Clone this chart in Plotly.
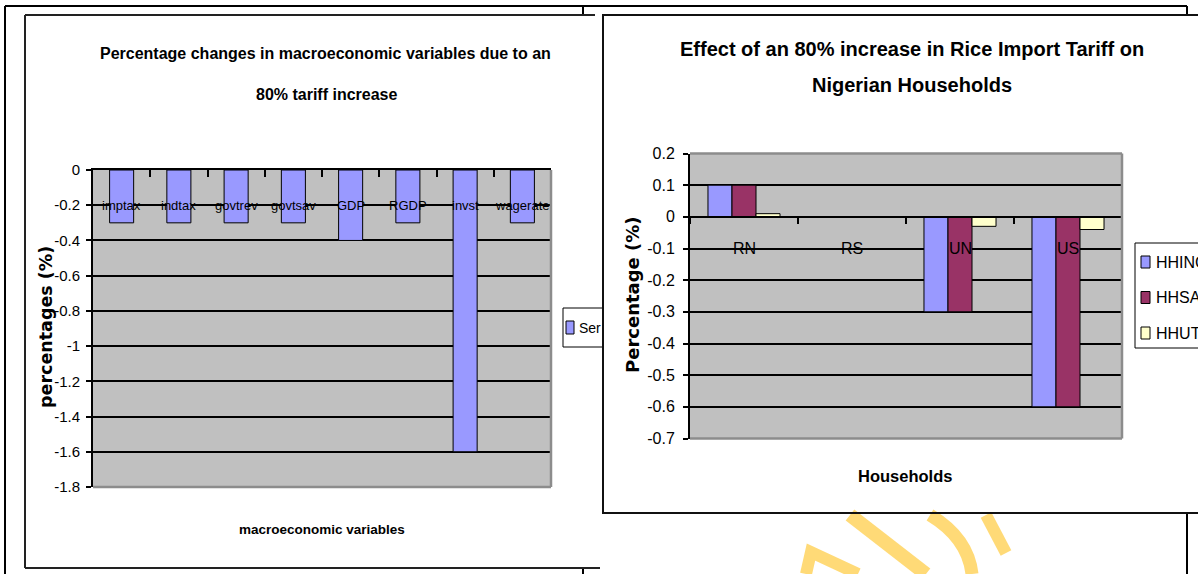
import plotly.graph_objects as go

W, H = 1198, 574

# ---------------- data: left chart ----------------
macro_vars = ["imptax", "indtax", "govtrev", "govtsav", "GDP", "RGDP", "invst", "wagerate"]
macro_changes = [-0.3, -0.3, -0.3, -0.3, -0.4, -0.3, -1.6, -0.3]
macro_series_name = "Series1"
left_title = ["Percentage changes in macroeconomic variables due to an", "80% tariff increase"]
left_xtitle = "macroeconomic variables"
left_ytitle = "percentages (%)"
left_yticks = [0, -0.2, -0.4, -0.6, -0.8, -1, -1.2, -1.4, -1.6, -1.8]
left_yticklabels = ["0", "-0.2", "-0.4", "-0.6", "-0.8", "-1", "-1.2", "-1.4", "-1.6", "-1.8"]

# ---------------- data: right chart ----------------
households = ["RN", "RS", "UN", "US"]
hh_income = [0.1, 0, -0.3, -0.6]
hh_saving = [0.1, 0, -0.3, -0.6]
hh_utility = [0.01, 0, -0.03, -0.04]
hh_series = ["HHINC", "HHSAV", "HHUT"]
right_title = ["Effect of an 80% increase in Rice Import Tariff on", "Nigerian Households"]
right_xtitle = "Households"
right_ytitle = "Percentage (%)"
right_yticks = [0.2, 0.1, 0, -0.1, -0.2, -0.3, -0.4, -0.5, -0.6, -0.7]
right_yticklabels = ["0.2", "0.1", "0", "-0.1", "-0.2", "-0.3", "-0.4", "-0.5", "-0.6", "-0.7"]

# ---------------- styles ----------------
FONT = "Liberation Sans, Arial, sans-serif"
WIDE_BOLD = "DejaVu Sans, Verdana, sans-serif"
LEFT_COLOR = "#9999FF"
HH_COLORS = ["#9999FF", "#993366", "#FFFFCC"]
PLOT_BG = "#C0C0C0"


def fx(px):
    return px / W


def fy(py):
    return 1 - py / H


L_XD = [fx(93), fx(551)]
L_YD = [fy(487), fy(170)]
R_XD = [fx(690), fx(1122)]
R_YD = [fy(438.5), fy(153.5)]
L_RANGE = [-1.8, 0]
R_RANGE = [-0.7, 0.2]
# x axis of the right chart crosses at value 0
r_axis_pos = R_YD[0] + (0 - R_RANGE[0]) / (R_RANGE[1] - R_RANGE[0]) * (R_YD[1] - R_YD[0])

fig = go.Figure()

fig.add_trace(go.Bar(
    x=macro_vars, y=macro_changes, name=macro_series_name,
    marker=dict(color=LEFT_COLOR, line=dict(color="black", width=1)),
    width=0.42, xaxis="x", yaxis="y", showlegend=False,
))
for name, vals, col in zip(hh_series, [hh_income, hh_saving, hh_utility], HH_COLORS):
    fig.add_trace(go.Bar(
        x=households, y=vals, name=name,
        marker=dict(color=col, line=dict(color="black", width=1)),
        xaxis="x2", yaxis="y2", showlegend=False,
    ))

axis_common = dict(showline=True, linecolor="black", linewidth=2, tickcolor="black",
                   fixedrange=True)

fig.update_layout(
    width=W, height=H,
    margin=dict(l=0, r=0, t=0, b=0, autoexpand=False),
    paper_bgcolor="white", plot_bgcolor=PLOT_BG,
    barmode="group", bargap=0.333, bargroupgap=0,
    showlegend=False,
    xaxis=dict(domain=L_XD, anchor="y", side="top", type="category", range=[-0.5, 7.5],
               ticks="inside", tickson="boundaries", ticklen=7, tickwidth=1.5,
               showticklabels=False, showgrid=False, zeroline=False, **axis_common),
    yaxis=dict(domain=L_YD, anchor="x", range=L_RANGE, tickvals=left_yticks,
               ticktext=left_yticklabels, ticks="outside", ticklen=5, tickwidth=1.5,
               ticklabelstandoff=3,
               showgrid=True, gridcolor="black", gridwidth=1.5, zeroline=False,
               tickfont=dict(family=FONT, size=15, color="black"), **axis_common),
    xaxis2=dict(domain=R_XD, anchor="free", position=r_axis_pos, type="category",
                range=[-0.5, 3.5], ticks="outside", tickson="boundaries", ticklen=6,
                tickwidth=1.5, showticklabels=False, showgrid=False, zeroline=False,
                **axis_common),
    yaxis2=dict(domain=R_YD, anchor="x2", range=R_RANGE, tickvals=right_yticks,
                ticktext=right_yticklabels, ticks="outside", ticklen=5, tickwidth=1.5,
                ticklabelstandoff=5,
                showgrid=True, gridcolor="black", gridwidth=1.5, zeroline=False,
                tickfont=dict(family=FONT, size=16, color="black"), **axis_common),
)

shapes = []


def seg(x0, y0, x1, y1, color="black", width=2):
    shapes.append(dict(type="line", xref="paper", yref="paper",
                       x0=fx(x0), y0=fy(y0), x1=fx(x1), y1=fy(y1),
                       line=dict(color=color, width=width)))


def rect(x0, y0, x1, y1, line_color="black", fill="rgba(0,0,0,0)", width=1):
    shapes.append(dict(type="rect", xref="paper", yref="paper",
                       x0=fx(x0), y0=fy(y0), x1=fx(x1), y1=fy(y1),
                       line=dict(color=line_color, width=width), fillcolor=fill))


# watermark strokes (beneath the right chart)
WM = "rgba(255,212,95,0.85)"
shapes.append(dict(type="path", xref="paper", yref="paper",
                   path=f"M {fx(850)},{fy(515)} L {fx(926)},{fy(574)}",
                   line=dict(color=WM, width=14)))
shapes.append(dict(type="path", xref="paper", yref="paper",
                   path=f"M {fx(930)},{fy(515)} Q {fx(968)},{fy(538)} {fx(972)},{fy(574)}",
                   line=dict(color=WM, width=13)))
shapes.append(dict(type="path", xref="paper", yref="paper",
                   path=f"M {fx(986)},{fy(515)} L {fx(1006)},{fy(553)}",
                   line=dict(color=WM, width=12)))
shapes.append(dict(type="path", xref="paper", yref="paper",
                   path=f"M {fx(806)},{fy(574)} L {fx(811)},{fy(552)} L {fx(858)},{fy(574)}",
                   line=dict(color=WM, width=12)))

# outer table frame (visible segments)
seg(5, 6, 1187, 6)
seg(5, 6, 5, 574)
seg(583, 6, 583, 15)
seg(583, 568, 583, 574)
seg(1187, 6, 1187, 15)
seg(1187, 513, 1187, 574)

# left chart frame (right side hidden under right chart)
seg(25, 15, 595, 15, "#222", 2)
seg(25, 15, 25, 568, "#222", 2)
seg(25, 568, 600, 568, "#222", 2)

# left chart legend (partly hidden by right chart)
seg(563, 308, 603, 308, "black", 1)
seg(563, 347, 603, 347, "black", 1)
seg(563, 308, 563, 347, "black", 1)
rect(566, 321, 574, 334, "black", LEFT_COLOR, 1)

# right chart frame
rect(603, 15, 1215, 513, "#111", "rgba(0,0,0,0)", 2)

# right chart legend
rect(1135, 243, 1215, 348, "black", "white", 1)
for i, col in enumerate(HH_COLORS):
    yc = 262 + i * 35.5
    rect(1141, yc - 6, 1150, yc + 6, "black", col, 1)

# gray plot-area borders
for xr, yr, sides in [("x domain", "y domain", ["right", "bottom"]),
                      ("x2 domain", "y2 domain", ["top", "right", "bottom"])]:
    for s in sides:
        if s == "right":
            c = dict(x0=1, x1=1, y0=0, y1=1)
        elif s == "bottom":
            c = dict(x0=0, x1=1, y0=0, y1=0)
        else:
            c = dict(x0=0, x1=1, y0=1, y1=1)
        shapes.append(dict(type="line", xref=xr, yref=yr, layer="above",
                           line=dict(color="#8C8C8C", width=2.5), **c))

fig.update_layout(shapes=shapes)

ann = []


def text_px(t, x, y, size, family=FONT, bold=False, angle=0, xanchor="center"):
    ann.append(dict(text=f"<b>{t}</b>" if bold else t, xref="paper", yref="paper",
                    x=fx(x), y=fy(y), xanchor=xanchor, yanchor="middle",
                    showarrow=False, textangle=angle,
                    font=dict(family=family, size=size, color="black")))


# titles
text_px(left_title[0], 325, 53, 16, bold=True)
text_px(left_title[1], 327, 95, 16, bold=True)
text_px(right_title[0], 912, 49, 20, bold=True)
text_px(right_title[1], 912, 85, 20, bold=True)
# axis titles
text_px(left_xtitle, 322, 529, 13.5, bold=True)
text_px(right_xtitle, 905, 476, 16.5, bold=True)
text_px(left_ytitle, 46, 327, 17.5, family=WIDE_BOLD, bold=True, angle=-90)
text_px(right_ytitle, 632, 295, 18, family=WIDE_BOLD, bold=True, angle=-90)

# category labels drawn at the axis' label band
for c in macro_vars:
    ann.append(dict(text=c, xref="x", yref="y", x=c, y=-0.2, showarrow=False,
                    yanchor="middle", font=dict(family=FONT, size=13, color="black")))
for c in households:
    ann.append(dict(text=c, xref="x2", yref="y2", x=c, y=-0.1, showarrow=False,
                    yanchor="middle", font=dict(family=FONT, size=16, color="black")))

# legends text (left legend is clipped by the right chart, only "Ser" visible)
text_px(macro_series_name[:3], 577, 328, 14, xanchor="left")
for i, name in enumerate(hh_series):
    text_px(name, 1154, 262 + i * 35.5, 16, xanchor="left")

fig.update_layout(annotations=ann)

fig.write_html("out.html", config={"displayModeBar": False},
               post_script="document.body.style.margin='0px';")
